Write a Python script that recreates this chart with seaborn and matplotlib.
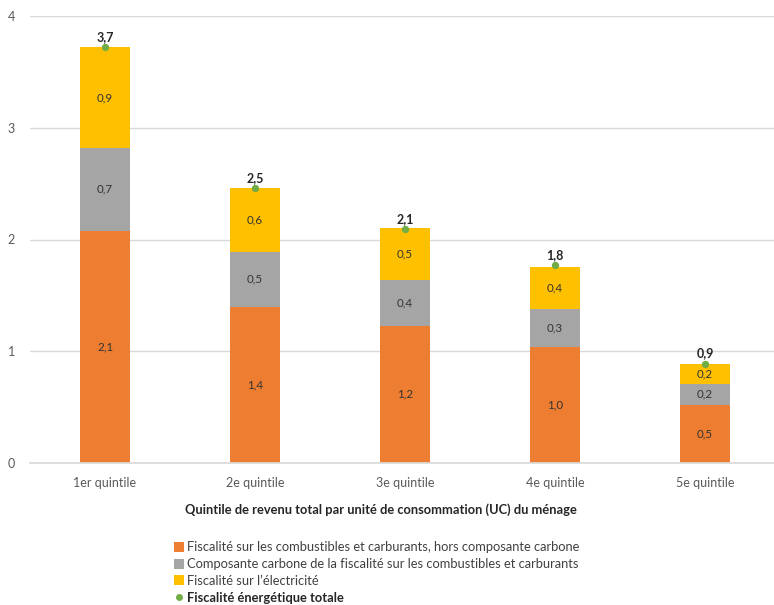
import matplotlib
matplotlib.use("Agg")
import matplotlib.pyplot as plt
import seaborn as sns
import pandas as pd
import numpy as np
from matplotlib.lines import Line2D

categories = ["1er quintile", "2e quintile", "3e quintile", "4e quintile", "5e quintile"]
hors_carbone = [2.08, 1.40, 1.23, 1.04, 0.52]
carbone = [0.74, 0.49, 0.41, 0.34, 0.19]
electricite = [0.90, 0.57, 0.46, 0.37, 0.18]
totale = [3.72, 2.46, 2.09, 1.77, 0.89]

series_names = [
    "Fiscalité sur les combustibles et carburants, hors composante carbone",
    "Composante carbone de la fiscalité sur les combustibles et carburants",
    "Fiscalité sur l’électricité",
]
total_name = "Fiscalité énergétique totale"
colors = ["#ED7D31", "#A5A5A5", "#FFC000"]
green = "#70AD47"

sns.set_theme(style="white")
plt.rcParams['font.family'] = ['Lato', 'DejaVu Sans']

fig = plt.figure(figsize=(7.74, 6.05), dpi=100)
W, H = 774, 605
ax = fig.add_axes([30 / W, 1 - 463 / H, (774 - 30) / W, (463 - 16) / H])

df = pd.DataFrame({"cat": categories, "a": hors_carbone, "b": carbone, "c": electricite, "t": totale})
bottom = np.zeros(len(categories))
for col, name, color in zip(["a", "b", "c"], series_names, colors):
    sns.barplot(data=df, x="cat", y=col, color=color, width=0.333, bottom=bottom,
                ax=ax, saturation=1, linewidth=0)
    vals = df[col].to_numpy()
    for i, v in enumerate(vals):
        ax.text(i, bottom[i] + v / 2, f"{v:.1f}".replace(".", ","), ha="center", va="center",
                fontsize=8.3, color="#333333")
    bottom = bottom + vals

sns.scatterplot(data=df, x="cat", y="t", color=green, s=28, ax=ax, zorder=5, linewidth=0, legend=False)
for i, v in enumerate(totale):
    ax.text(i, v + 0.04, f"{v:.1f}".replace(".", ","), ha="center", va="bottom",
            fontsize=9, fontweight="bold", color="#262626")

ax.set_xlim(-0.5, 4.46)
ax.set_ylim(0, 4)
ax.set_yticks([0, 1, 2, 3, 4])
ax.set_yticklabels(["0", "1", "2", "3", "4"])
ax.yaxis.grid(True, color="#D9D9D9", linewidth=1)
ax.set_axisbelow(True)
for s in ["top", "right", "left"]:
    ax.spines[s].set_visible(False)
ax.spines["bottom"].set_color("#D9D9D9")
ax.tick_params(axis="y", length=0, pad=11, labelsize=9, labelcolor="#595959")
ax.tick_params(axis="x", length=0, pad=10, labelsize=9, labelcolor="#595959")
ax.set_xlabel("")
ax.set_ylabel("")

fig.text(381 / W, 1 - 510 / H, "Quintile de revenu total par unité de consommation (UC) du ménage",
         ha="center", va="center", fontsize=9.3, fontweight="bold", color="#262626")

handles = [Line2D([0], [0], marker="s", color="none", markerfacecolor=c, markeredgewidth=0, markersize=6.5)
           for c in colors]
handles.append(Line2D([0], [0], marker="o", color="none", markerfacecolor=green, markeredgewidth=0, markersize=5))
leg = fig.legend(handles, series_names + [total_name], loc="upper left",
                 bbox_to_anchor=(170 / W, 1 - 536 / H), frameon=False, fontsize=9.3,
                 handlelength=0.6, handletextpad=0.35, labelspacing=0.38, borderaxespad=0,
                 labelcolor="#404040")
leg.get_texts()[-1].set_fontweight("bold")
leg.get_texts()[-1].set_color("#262626")

fig.savefig("out.png", dpi=100)
